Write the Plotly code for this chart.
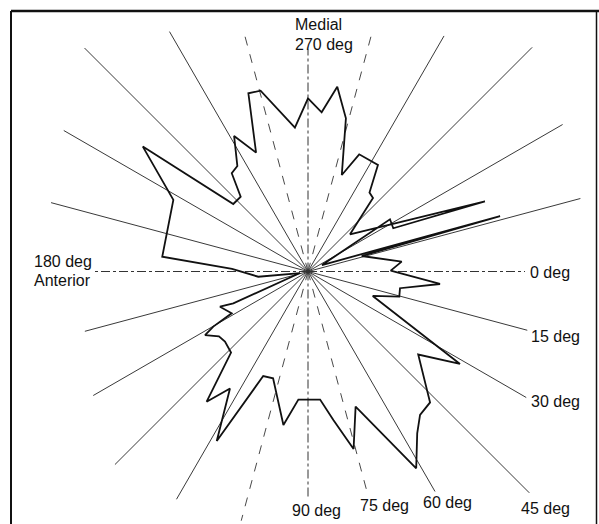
import numpy as np
import plotly.graph_objects as go

# ---- data ----
# spokes: direction (deg, clockwise from "0 deg" on the right) and drawn length (arbitrary units)
spoke_angles = [0, 15, 30, 45, 60, 75, 90, 105, 120, 135, 150, 165,
                180, 195, 210, 225, 240, 255, 270, 285, 300, 315, 330, 345]
spoke_lengths = [217, 227, 252, 313, 254, 230, 225, 258, 263, 273, 248, 231,
                 214, 266, 282, 316, 277, 249, 222, 243, 272, 317, 294, 282]
axis_spokes = [0, 90, 180, 270]
dashed_spokes = [75, 105, 255, 285]

# measured outline: vertex direction (deg) and radius (same units)
curve_theta = [31.3, 37.0, 47.0, 52.0, 56.0, 61.2, 70.6, 75.6, 80.3, 84.6,
               94.3, 99.1, 108.1, 113.2, 118.3, 123.7, 127.9, 133.5, 139.8, 143.9,
               148.3, 149.8, 151.3, 158.2, 156.9, 169.0, 174.0, 181.9, 185.8, 208.0,
               217.1, 222.1, 228.0, 232.2, 236.2, 241.4, 246.4, 251.5, 255.3, 264.8,
               270.0, 274.9, 279.0, 283.9, 289.3, 293.6, 303.3, 307.9, 311.5, 318.5,
               338.4, 333.1, 327.5, 335.1, 343.9, 343.9, 354.0, 359.4, 5.4, 10.3,
               15.4, 20.7, 31.3]
curve_r = [177.9, 138.0, 179.0, 182.0, 195.3, 224.6, 143.3, 183.3, 150.6, 128.6,
           128.4, 155.5, 112.4, 113.7, 192.5, 140.6, 165.0, 111.8, 108.7, 110.2,
           121.0, 109.6, 87.0, 94.8, 81.2, 8.1, 50.0, 76.0, 146.5, 152.5,
           207.1, 100.7, 100.6, 124.4, 127.0, 154.4, 129.7, 187.9, 186.9, 144.4,
           173.2, 159.8, 187.1, 157.8, 102.2, 127.9, 127.4, 100.1, 98.1, 56.1,
           190.3, 95.6, 97.2, 15.4, 199.9, 55.9, 94.2, 82.7, 132.6, 93.5,
           94.7, 69.2, 177.9]

label_texts = ["Medial", "270 deg", "180 deg", "Anterior", "0 deg", "15 deg",
               "30 deg", "45 deg", "60 deg", "75 deg", "90 deg"]


def to_xy(theta_deg, r):
    t = np.radians(np.asarray(theta_deg, dtype=float))
    r = np.asarray(r, dtype=float)
    return r * np.cos(t), -r * np.sin(t)


def spoke_segments(selected):
    xs, ys = [], []
    for a, L in zip(spoke_angles, spoke_lengths):
        if a in selected:
            x, y = to_xy([a, a], [0, L])
            xs += [x[0], x[1], None]
            ys += [y[0], y[1], None]
    return xs, ys


fig = go.Figure()

solid = [a for a in spoke_angles if a not in axis_spokes and a not in dashed_spokes]
for group, dash, width, color in [(solid, "solid", 0.9, "#222222"),
                                  (dashed_spokes, "dash", 0.9, "#333333"),
                                  (axis_spokes, "dashdot", 1.0, "#333333")]:
    xs, ys = spoke_segments(group)
    fig.add_trace(go.Scatter(x=xs, y=ys, mode="lines",
                             line=dict(color=color, width=width, dash=dash),
                             hoverinfo="skip", showlegend=False))

cx, cy = to_xy(curve_theta, curve_r)
fig.add_trace(go.Scatter(x=cx, y=cy, mode="lines",
                         line=dict(color="#111111", width=1.8),
                         hoverinfo="skip", showlegend=False))

# label placement (layout positions, pixels relative to the hub)
CX, CY = 308.0, 271.5
label_pos = [(292.5, 24.0, "left"), (292.5, 44.5, "left"),
             (32.0, 261.0, "left"), (32.0, 280.0, "left"),
             (528.0, 272.5, "left"), (529.0, 336.0, "left"),
             (529.0, 401.0, "left"), (519.0, 508.5, "left"),
             (420.5, 502.5, "left"), (358.0, 505.5, "left"),
             (289.5, 510.5, "left")]
for txt, (px, py, anc) in zip(label_texts, label_pos):
    fig.add_annotation(x=px - CX, y=CY - py, text=txt, showarrow=False,
                       xanchor=anc, yanchor="middle",
                       font=dict(family="Liberation Sans, Arial, sans-serif",
                                 size=16, color="#111111"))

W, H = 599, 524
# frame of the scanned figure
fig.add_shape(type="line", xref="paper", yref="paper",
              x0=11 / W, x1=1.0, y0=1 - 11 / H, y1=1 - 11 / H,
              line=dict(color="#111111", width=2.5))
fig.add_shape(type="line", xref="paper", yref="paper",
              x0=11 / W, x1=11 / W, y0=1 - 11 / H, y1=0,
              line=dict(color="#111111", width=2))
fig.add_shape(type="line", xref="paper", yref="paper",
              x0=596.5 / W, x1=596.5 / W, y0=1 - 11 / H, y1=0,
              line=dict(color="#111111", width=1.5))

fig.update_xaxes(range=[-CX, W - CX], visible=False, showgrid=False, zeroline=False)
fig.update_yaxes(range=[CY - H, CY], visible=False, showgrid=False, zeroline=False)
fig.update_layout(width=W, height=H, autosize=False,
                  margin=dict(l=0, r=0, t=0, b=0),
                  paper_bgcolor="white", plot_bgcolor="white")

fig.write_html("out.html",
               config={"displayModeBar": False},
               post_script="document.body.style.margin='0';document.body.style.overflow='hidden';")
